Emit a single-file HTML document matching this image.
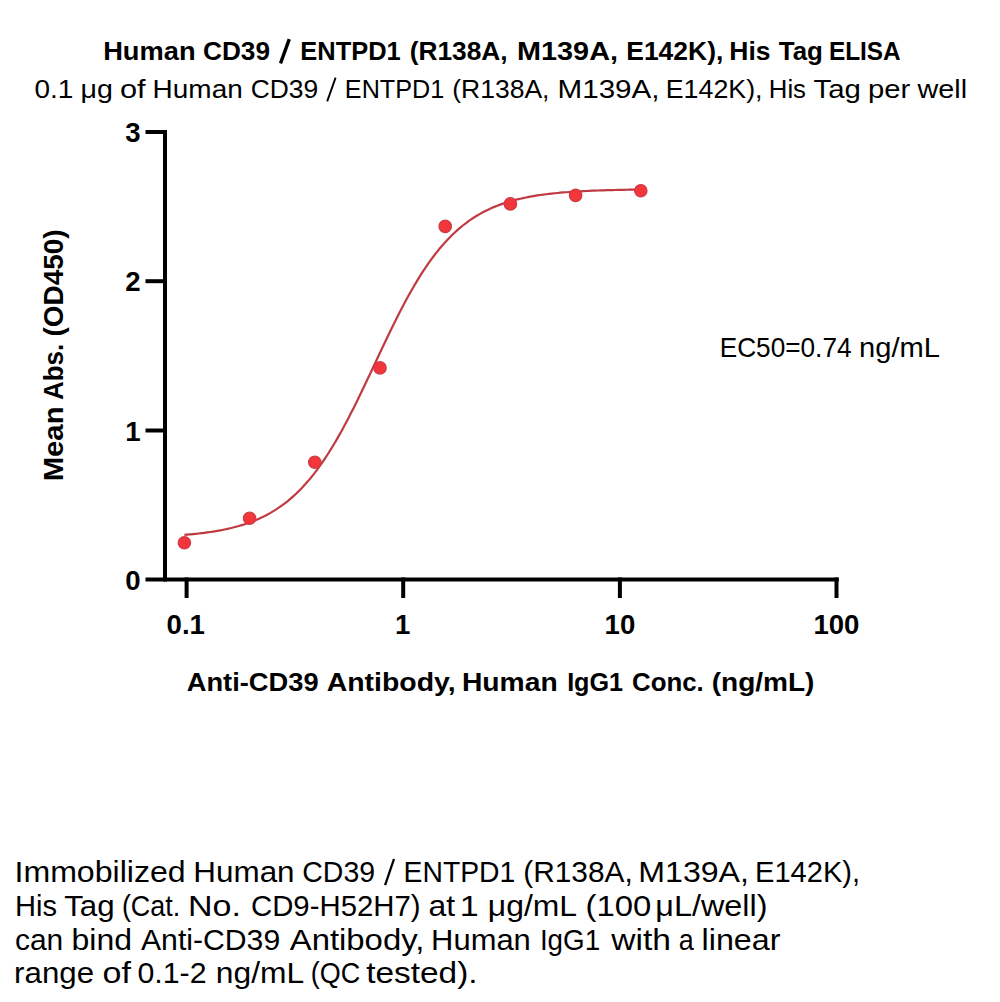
<!DOCTYPE html>
<html><head><meta charset="utf-8"><style>
html,body{margin:0;padding:0;background:#fff;}
body{width:1000px;height:1002px;overflow:hidden;}
svg{display:block;}
text{font-family:"Liberation Sans",sans-serif;fill:#000;}
</style></head><body>
<svg width="1000" height="1002" viewBox="0 0 1000 1002" lengthAdjust="spacingAndGlyphs">
<rect width="1000" height="1002" fill="#fff"/>
<g font-size="26.50" font-weight="bold">
<text x="103.20" y="60.00" lengthAdjust="spacingAndGlyphs" textLength="92.41">Human</text>
<text x="203.01" y="60.00" lengthAdjust="spacingAndGlyphs" textLength="66.98">CD39</text>
<text x="300.32" y="60.00" lengthAdjust="spacingAndGlyphs" textLength="100.45">ENTPD1</text>
<text x="409.76" y="60.00" lengthAdjust="spacingAndGlyphs" textLength="97.91">(R138A,</text>
<text x="517.10" y="60.00" lengthAdjust="spacingAndGlyphs" textLength="100.85">M139A,</text>
<text x="626.25" y="60.00" lengthAdjust="spacingAndGlyphs" textLength="97.06">E142K),</text>
<text x="729.25" y="60.00" lengthAdjust="spacingAndGlyphs" textLength="41.24">His</text>
<text x="778.76" y="60.00" lengthAdjust="spacingAndGlyphs" textLength="44.10">Tag</text>
<text x="828.91" y="60.00" lengthAdjust="spacingAndGlyphs" textLength="71.80">ELISA</text>
</g>
<g font-size="26.50">
<text x="34.54" y="98.00" lengthAdjust="spacingAndGlyphs" textLength="38.87">0.1</text>
<text x="80.51" y="98.00" lengthAdjust="spacingAndGlyphs" textLength="32.39">μg</text>
<text x="120.02" y="98.00" lengthAdjust="spacingAndGlyphs" textLength="25.64">of</text>
<text x="152.63" y="98.00" lengthAdjust="spacingAndGlyphs" textLength="90.15">Human</text>
<text x="250.75" y="98.00" lengthAdjust="spacingAndGlyphs" textLength="67.49">CD39</text>
<text x="344.86" y="98.00" lengthAdjust="spacingAndGlyphs" textLength="99.38">ENTPD1</text>
<text x="452.25" y="98.00" lengthAdjust="spacingAndGlyphs" textLength="97.21">(R138A,</text>
<text x="557.48" y="98.00" lengthAdjust="spacingAndGlyphs" textLength="102.12">M139A,</text>
<text x="665.73" y="98.00" lengthAdjust="spacingAndGlyphs" textLength="96.81">E142K),</text>
<text x="768.81" y="98.00" lengthAdjust="spacingAndGlyphs" textLength="37.18">His</text>
<text x="813.44" y="98.00" lengthAdjust="spacingAndGlyphs" textLength="47.47">Tag</text>
<text x="868.07" y="98.00" lengthAdjust="spacingAndGlyphs" textLength="42.26">per</text>
<text x="917.50" y="98.00" lengthAdjust="spacingAndGlyphs" textLength="49.57">well</text>
</g>
<g stroke="#000" stroke-width="4" fill="none">
<path d="M165 130 V581.5"/>
<path d="M145.5 132 H167"/>
<path d="M145.5 281.2 H167"/>
<path d="M145.5 430.5 H167"/>
<path d="M145.5 579.5 H838.8"/>
<path d="M186.6 577.5 V598"/>
<path d="M403.2 577.5 V598"/>
<path d="M619.9 577.5 V598"/>
<path d="M836.5 577.5 V598"/>
</g>
<g font-size="27.6" font-weight="bold" text-anchor="end">
<text x="140.5" y="142">3</text>
<text x="140.5" y="291">2</text>
<text x="140.5" y="440.5">1</text>
<text x="140.5" y="589.5">0</text>
</g>
<g font-size="27.6" font-weight="bold" text-anchor="middle">
<text x="185.8" y="633.5">0.1</text>
<text x="402.8" y="633.5">1</text>
<text x="619.9" y="633.5">10</text>
<text x="836.4" y="633.5">100</text>
</g>
<g transform="rotate(-90)" font-size="27.40" font-weight="bold">
<text x="-481.27" y="62.60" lengthAdjust="spacingAndGlyphs" textLength="74.77">Mean</text>
<text x="-400.11" y="62.60" lengthAdjust="spacingAndGlyphs" textLength="56.39">Abs.</text>
<text x="-336.57" y="62.60" lengthAdjust="spacingAndGlyphs" textLength="107.11">(OD450)</text>
</g>
<g font-size="26.50" font-weight="bold">
<text x="186.73" y="690.60" lengthAdjust="spacingAndGlyphs" textLength="131.89">Anti-CD39</text>
<text x="326.70" y="690.60" lengthAdjust="spacingAndGlyphs" textLength="128.94">Antibody,</text>
<text x="461.93" y="690.60" lengthAdjust="spacingAndGlyphs" textLength="95.73">Human</text>
<text x="567.14" y="690.60" lengthAdjust="spacingAndGlyphs" textLength="55.98">IgG1</text>
<text x="632.02" y="690.60" lengthAdjust="spacingAndGlyphs" textLength="71.79">Conc.</text>
<text x="711.68" y="690.60" lengthAdjust="spacingAndGlyphs" textLength="102.79">(ng/mL)</text>
</g>
<g font-size="26.90">
<text x="719.71" y="357.40" lengthAdjust="spacingAndGlyphs" textLength="131.82">EC50=0.74</text>
<text x="859.11" y="357.40" lengthAdjust="spacingAndGlyphs" textLength="80.92">ng/mL</text>
</g>
<path d="M184.37 534.86 L187.24 534.62 L190.11 534.37 L192.98 534.09 L195.85 533.80 L198.72 533.49 L201.59 533.16 L204.47 532.80 L207.34 532.42 L210.21 532.01 L213.08 531.57 L215.95 531.10 L218.82 530.60 L221.69 530.06 L224.56 529.49 L227.43 528.88 L230.30 528.22 L233.18 527.52 L236.05 526.78 L238.92 525.98 L241.79 525.13 L244.66 524.22 L247.53 523.25 L250.40 522.22 L253.27 521.12 L256.14 519.94 L259.01 518.70 L261.89 517.37 L264.76 515.95 L267.63 514.45 L270.50 512.85 L273.37 511.16 L276.24 509.36 L279.11 507.45 L281.98 505.43 L284.85 503.29 L287.72 501.03 L290.59 498.64 L293.47 496.11 L296.34 493.45 L299.21 490.65 L302.08 487.69 L304.95 484.59 L307.82 481.34 L310.69 477.92 L313.56 474.35 L316.43 470.61 L319.30 466.71 L322.18 462.64 L325.05 458.41 L327.92 454.01 L330.79 449.46 L333.66 444.74 L336.53 439.86 L339.40 434.84 L342.27 429.67 L345.14 424.35 L348.01 418.91 L350.89 413.35 L353.76 407.67 L356.63 401.89 L359.50 396.03 L362.37 390.08 L365.24 384.07 L368.11 378.02 L370.98 371.92 L373.85 365.81 L376.72 359.69 L379.59 353.58 L382.47 347.50 L385.34 341.45 L388.21 335.46 L391.08 329.53 L393.95 323.69 L396.82 317.94 L399.69 312.29 L402.56 306.76 L405.43 301.35 L408.30 296.08 L411.18 290.94 L414.05 285.96 L416.92 281.13 L419.79 276.45 L422.66 271.94 L425.53 267.58 L428.40 263.40 L431.27 259.37 L434.14 255.52 L437.01 251.82 L439.89 248.29 L442.76 244.92 L445.63 241.71 L448.50 238.64 L451.37 235.73 L454.24 232.97 L457.11 230.34 L459.98 227.85 L462.85 225.50 L465.72 223.27 L468.60 221.16 L471.47 219.17 L474.34 217.30 L477.21 215.52 L480.08 213.86 L482.95 212.29 L485.82 210.81 L488.69 209.42 L491.56 208.11 L494.43 206.88 L497.30 205.73 L500.18 204.65 L503.05 203.63 L505.92 202.68 L508.79 201.79 L511.66 200.95 L514.53 200.17 L517.40 199.43 L520.27 198.75 L523.14 198.10 L526.01 197.50 L528.89 196.94 L531.76 196.41 L534.63 195.92 L537.50 195.46 L540.37 195.03 L543.24 194.63 L546.11 194.25 L548.98 193.90 L551.85 193.57 L554.72 193.27 L557.60 192.98 L560.47 192.71 L563.34 192.46 L566.21 192.23 L569.08 192.01 L571.95 191.81 L574.82 191.62 L577.69 191.44 L580.56 191.28 L583.43 191.13 L586.31 190.98 L589.18 190.85 L592.05 190.72 L594.92 190.61 L597.79 190.50 L600.66 190.40 L603.53 190.30 L606.40 190.21 L609.27 190.13 L612.14 190.05 L615.01 189.98 L617.89 189.92 L620.76 189.85 L623.63 189.80 L626.50 189.74 L629.37 189.69 L632.24 189.64 L635.11 189.60 L637.98 189.56 L640.85 189.52" fill="none" stroke="#c03a42" stroke-width="2.2"/>
<g fill="#f2363a" stroke="#cc3b45" stroke-width="1.2">
<circle cx="184.4" cy="542.8" r="6.2"/>
<circle cx="249.6" cy="518.2" r="6.2"/>
<circle cx="314.8" cy="462.2" r="6.2"/>
<circle cx="380.0" cy="367.9" r="6.2"/>
<circle cx="445.2" cy="226.4" r="6.2"/>
<circle cx="510.4" cy="203.9" r="6.2"/>
<circle cx="575.6" cy="195.4" r="6.2"/>
<circle cx="640.8" cy="190.7" r="6.2"/>
</g>
<g stroke="#000" fill="none" stroke-linecap="butt"><path d="M289.3 39.2 L280.5 63.4" stroke-width="3.4"/><path d="M335.6 77.6 L327.2 101.4" stroke-width="1.9"/><path d="M394 859 L385.1 885.2" stroke-width="2.3"/></g>
<g font-size="29.30">
<text x="14.49" y="882.00" lengthAdjust="spacingAndGlyphs" textLength="171.24">Immobilized</text>
<text x="193.32" y="882.00" lengthAdjust="spacingAndGlyphs" textLength="101.27">Human</text>
<text x="302.29" y="882.00" lengthAdjust="spacingAndGlyphs" textLength="72.82">CD39</text>
<text x="403.58" y="882.00" lengthAdjust="spacingAndGlyphs" textLength="111.71">ENTPD1</text>
<text x="523.22" y="882.00" lengthAdjust="spacingAndGlyphs" textLength="109.56">(R138A,</text>
<text x="638.26" y="882.00" lengthAdjust="spacingAndGlyphs" textLength="110.72">M139A,</text>
<text x="755.02" y="882.00" lengthAdjust="spacingAndGlyphs" textLength="105.07">E142K),</text>
</g>
<g font-size="29.30">
<text x="15.02" y="915.70" lengthAdjust="spacingAndGlyphs" textLength="42.04">His</text>
<text x="64.20" y="915.70" lengthAdjust="spacingAndGlyphs" textLength="50.42">Tag</text>
<text x="121.88" y="915.70" lengthAdjust="spacingAndGlyphs" textLength="58.41">(Cat.</text>
<text x="187.98" y="915.70" lengthAdjust="spacingAndGlyphs" textLength="52.89">No.</text>
<text x="251.00" y="915.70" lengthAdjust="spacingAndGlyphs" textLength="169.57">CD9-H52H7)</text>
<text x="428.64" y="915.70" lengthAdjust="spacingAndGlyphs" textLength="26.56">at</text>
<text x="459.89" y="915.70" lengthAdjust="spacingAndGlyphs" textLength="18.90">1</text>
<text x="487.82" y="915.70" lengthAdjust="spacingAndGlyphs" textLength="89.28">μg/mL</text>
<text x="585.54" y="915.70" lengthAdjust="spacingAndGlyphs" textLength="65.74">(100</text>
<text x="655.29" y="915.70" lengthAdjust="spacingAndGlyphs" textLength="112.19">μL/well)</text>
</g>
<g font-size="29.30">
<text x="14.97" y="949.50" lengthAdjust="spacingAndGlyphs" textLength="48.31">can</text>
<text x="71.57" y="949.50" lengthAdjust="spacingAndGlyphs" textLength="60.50">bind</text>
<text x="140.99" y="949.50" lengthAdjust="spacingAndGlyphs" textLength="139.19">Anti-CD39</text>
<text x="289.72" y="949.50" lengthAdjust="spacingAndGlyphs" textLength="134.59">Antibody,</text>
<text x="431.11" y="949.50" lengthAdjust="spacingAndGlyphs" textLength="99.69">Human</text>
<text x="539.89" y="949.50" lengthAdjust="spacingAndGlyphs" textLength="60.30">IgG1</text>
<text x="611.25" y="949.50" lengthAdjust="spacingAndGlyphs" textLength="59.62">with</text>
<text x="678.83" y="949.50" lengthAdjust="spacingAndGlyphs" textLength="14.99">a</text>
<text x="701.55" y="949.50" lengthAdjust="spacingAndGlyphs" textLength="78.90">linear</text>
</g>
<g font-size="29.30">
<text x="14.12" y="983.30" lengthAdjust="spacingAndGlyphs" textLength="79.91">range</text>
<text x="102.56" y="983.30" lengthAdjust="spacingAndGlyphs" textLength="28.34">of</text>
<text x="137.46" y="983.30" lengthAdjust="spacingAndGlyphs" textLength="69.12">0.1-2</text>
<text x="215.83" y="983.30" lengthAdjust="spacingAndGlyphs" textLength="88.38">ng/mL</text>
<text x="310.69" y="983.30" lengthAdjust="spacingAndGlyphs" textLength="49.41">(QC</text>
<text x="366.23" y="983.30" lengthAdjust="spacingAndGlyphs" textLength="111.35">tested).</text>
</g>
</svg>
</body></html>
